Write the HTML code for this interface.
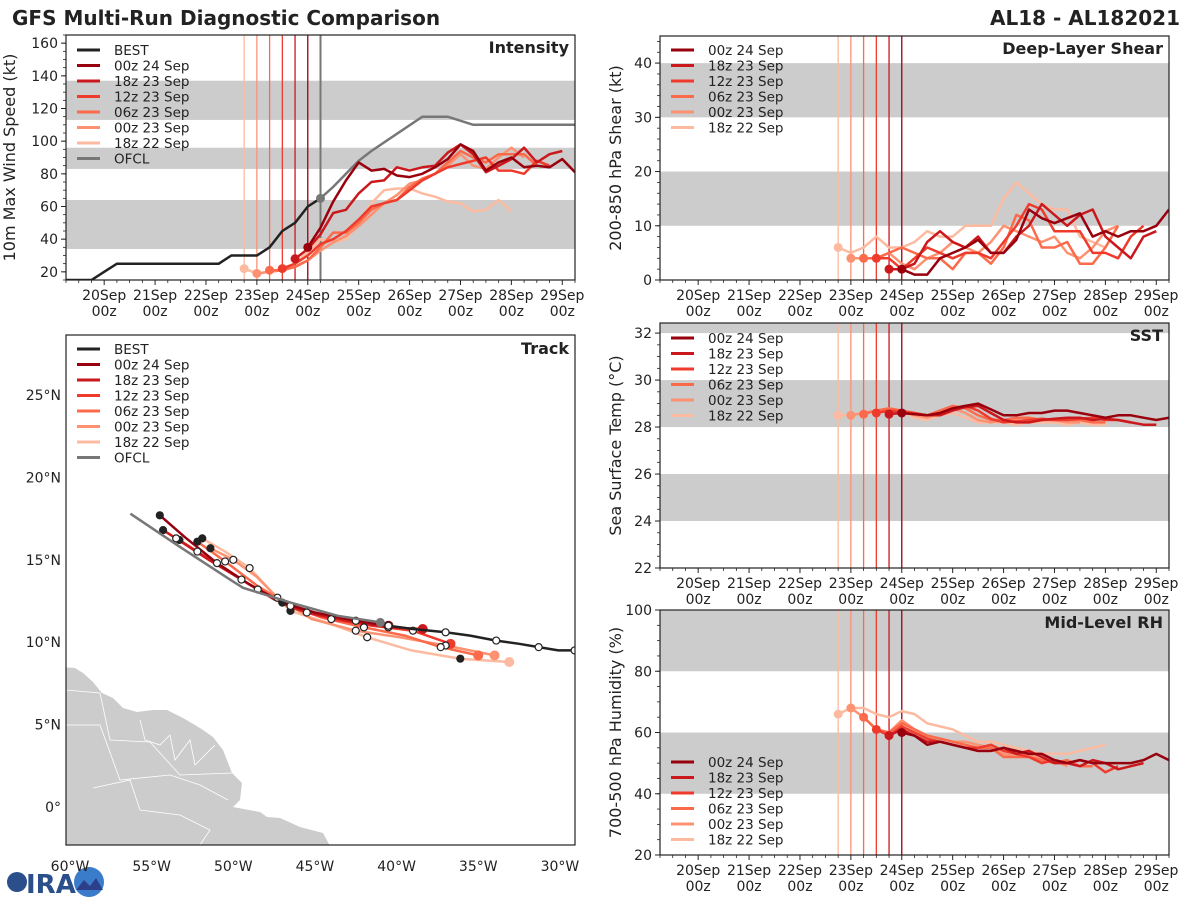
<!DOCTYPE html>
<html><head><meta charset="utf-8"><style>
body{margin:0;background:#fff;}
svg{display:block;font-family:"DejaVu Sans","Liberation Sans",sans-serif;}
</style></head><body>
<svg id="root" width="1200" height="900" viewBox="0 0 1200 900">
<text x="12" y="25" font-size="20" font-weight="bold" fill="#222">GFS Multi-Run Diagnostic Comparison</text>
<text x="1180" y="25" font-size="20" font-weight="bold" fill="#222" text-anchor="end">AL18 - AL182021</text>
<g>
<circle cx="17" cy="882" r="10" fill="#2b4f8a"/>
<text x="26" y="893" font-size="26" font-weight="bold" fill="#2b4f8a">IRA</text>
<circle cx="89" cy="882" r="15" fill="#3a7cc9"/>
<path d="M76 890 L84 880 L90 886 L96 878 L103 890 Z" fill="#2c3f8a"/>
</g>
</svg>
<script>
// ---------- data ----------
const runLabels = ['00z 24 Sep','18z 23 Sep','12z 23 Sep','06z 23 Sep','00z 23 Sep','18z 22 Sep'];
const runColors = ['#99000d','#cb181d','#ef3b2c','#fb6a4a','#fc9272','#fcbba1'];
const runInitHours = [96,90,84,78,72,66];
const dayLabels = ['20Sep','21Sep','22Sep','23Sep','24Sep','25Sep','26Sep','27Sep','28Sep','29Sep'];

const bestHours = [-18,-12,-6,0,6,12,18,24,30,36,42,48,54,60,66,72,78,84,90,96,102];
const bestWind = [15,15,15,20,25,25,25,25,25,25,25,25,25,30,30,30,35,45,50,60,65];
const ofclHours = [102,108,114,120,126,150,162,174,222];
const ofclWind = [65,72,80,88,94,115,115,110,110];

const windRuns = [
 [35,47,63,76,87,82,83,79,78,80,84,89,98,94,82,87,90,84,85,84,89,81],
 [28,34,43,56,58,68,75,76,84,82,84,85,93,98,92,81,85,89,96,87,92,94],
 [22,25,30,37,40,45,52,60,62,64,70,76,80,84,86,88,90,82,82,80,88,85],
 [21,21,23,27,35,44,44,50,58,62,64,72,77,80,87,94,90,87,92,92,92,85],
 [19,20,21,23,27,33,38,42,48,55,62,67,74,76,80,85,92,85,83,90,96,90],
 [22,19,20,22,25,32,40,38,40,50,62,70,71,71,68,66,63,62,57,58,64,57]
];
const shearRuns = [
 [2,1,1,4,5,6,7.4,5,5,7.4,13,11.4,10.5,11.4,12.3,8,9,8,9,9,10,13],
 [2,2,3,7,9,7,6,8,5,5,8,10,14,12,10,12,13,8,6,4,8,9],
 [4,4,2,4,6,5,4,5,5,4,7,10,14,13,9,9,9,5,5,4,8,10],
 [4,4,5,6,5,4,4,2,5,5,3,6,12,11,6,6,7,3,3,6,10],
 [4,4,4,5,3,2,4,5,7,6,5,7,10,9,8,7,8,5,4,6,9,10],
 [6,5,6,8,6,6,7,9,8,8,10,10,10,15,18,16,14,13,13,8,7,6]
];
const sstRuns = [
 [28.6,28.55,28.5,28.6,28.8,28.9,29.0,28.75,28.5,28.5,28.6,28.6,28.7,28.7,28.6,28.5,28.4,28.5,28.5,28.4,28.3,28.4],
 [28.55,28.6,28.55,28.5,28.5,28.7,28.85,28.9,28.6,28.3,28.2,28.2,28.3,28.35,28.4,28.4,28.3,28.35,28.3,28.2,28.1,28.1],
 [28.6,28.7,28.65,28.6,28.5,28.6,28.8,28.9,28.7,28.35,28.2,28.25,28.3,28.35,28.3,28.3,28.35,28.4,28.3,28.3,28.2],
 [28.55,28.7,28.8,28.7,28.6,28.5,28.7,28.9,28.8,28.5,28.3,28.3,28.4,28.4,28.3,28.3,28.3,28.3,28.2,28.2],
 [28.5,28.6,28.7,28.7,28.65,28.5,28.4,28.6,28.8,28.6,28.3,28.2,28.3,28.3,28.2,28.3,28.3,28.2,28.2],
 [28.5,28.5,28.6,28.7,28.8,28.7,28.4,28.3,28.5,28.6,28.4,28.2,28.2,28.2,28.1,28.2,28.2,28.2,28.1,28.2,28.1,28.1]
];
const rhRuns = [
 [60,59,56,57,56,55,54,54,55,54,53,53,51,50,51,50,50,50,50,51,53,51],
 [59,61,59,57,57,56,55,54,54,55,53,54,52,50,50,49,51,50,48,49,50],
 [61,59,62,60,58,57,56,55,55,56,54,53,52,50,51,50,51,50,47,49],
 [65,61,60,63,61,59,58,57,56,55,55,52,52,52,51,50,51,49,49],
 [68,65,61,60,64,61,59,58,57,57,56,55,53,52,53,51,51,49],
 [66,68,68,66,65,67,66,63,62,61,59,57,57,56,55,54,53,53,53,54,55,56]
];

const bestLon = [-29.1,-30.1,-31.3,-32.5,-33.9,-35.5,-37.0,-39.0,-40.5,-41.0];
const bestLat = [9.5,9.5,9.7,9.9,10.1,10.4,10.6,10.8,11.0,11.2];
const ofclLon = [-41.0,-43.6,-46.5,-49.4,-50.2,-53.3,-56.3];
const ofclLat = [11.2,11.6,12.4,13.3,13.8,15.8,17.8];
const trackLons = [
 [-40.5,-42.5,-45.0,-47.0,-49.0,-51.0,-53.0,-54.5],
 [-38.4,-40.5,-43.0,-45.5,-47.5,-49.5,-51.5,-53.5,-54.3],
 [-36.7,-39.0,-41.5,-44.0,-46.5,-48.5,-50.3,-52.2,-53.3],
 [-35.0,-37.3,-39.5,-42.0,-44.6,-46.5,-48.5,-50.5,-52.2],
 [-34.0,-37.0,-39.8,-42.5,-45.2,-47.3,-48.6,-50.0,-51.4],
 [-33.1,-36.1,-39.1,-41.8,-44.0,-46.5,-47.6,-49.0,-50.5,-51.9]
];
const trackLats = [
 [11.0,11.3,11.8,12.4,13.5,14.8,16.4,17.7],
 [10.8,10.9,11.3,11.8,12.6,13.8,15.0,16.3,16.8],
 [9.9,10.7,11.0,11.4,12.1,13.2,14.3,15.5,16.2],
 [9.2,9.7,10.4,10.9,11.5,12.2,13.4,14.9,16.1],
 [9.2,9.8,10.3,10.7,11.4,12.7,14.0,15.0,15.7],
 [8.8,9.0,9.5,10.3,11.1,11.9,13.0,14.5,15.5,16.3]
];

// ---------- helpers ----------
const NS='http://www.w3.org/2000/svg';
const root=document.getElementById('root');
function mk(tag,attrs,parent){const e=document.createElementNS(NS,tag);for(const k in attrs)e.setAttribute(k,attrs[k]);(parent||root).appendChild(e);return e;}
function txt(s,attrs,parent){const e=mk('text',attrs,parent);e.textContent=s;return e;}
function pts(xs,ys){return xs.map((x,i)=>x.toFixed(1)+','+ys[i].toFixed(1)).join(' ');}

function timePanel(p){
  const g=mk('g',{});
  
  
  const tx=h=>p.x0+(h+18)/240*(p.x1-p.x0);
  const ty=v=>p.y1-(v-p.vmin)/(p.vmax-p.vmin)*(p.y1-p.y0);
  const clipId='clip-'+p.name;
  const cp=mk('clipPath',{id:clipId},g);mk('rect',{x:p.x0,y:p.y0,width:p.x1-p.x0,height:p.y1-p.y0},cp);
  p.bands.forEach(b=>{const r=mk('rect',{x:p.x0,y:ty(Math.min(b[1],p.vmax)),width:p.x1-p.x0,height:ty(b[0])-ty(Math.min(b[1],p.vmax)),fill:'#cccccc'},g);
    });
  for(let r=5;r>=0;r--){const l=mk('line',{x1:tx(runInitHours[r]),x2:tx(runInitHours[r]),y1:p.y0,y2:p.y1,stroke:runColors[r],'stroke-width':1.3},g);
    }
  if(p.ofcl){const l=mk('line',{x1:tx(ofclHours[0]),x2:tx(ofclHours[0]),y1:p.y0,y2:p.y1,stroke:'#777','stroke-width':2},g);
    }
  const dg=mk('g',{'clip-path':'url(#'+clipId+')'},g);
  if(p.best){
    const l=mk('polyline',{points:pts(bestHours.map(tx),bestWind.map(ty)),fill:'none',stroke:'#222','stroke-width':2.5},dg);
    
    const o=mk('polyline',{points:pts(ofclHours.map(tx),ofclWind.map(ty)),fill:'none',stroke:'#777','stroke-width':2.5},dg);
    
    const od=mk('circle',{cx:tx(ofclHours[0]),cy:ty(ofclWind[0]),r:4.5,fill:'#777'},dg);
    
  }
  for(let r=5;r>=0;r--){
    const vals=p.data[r];const hs=vals.map((v,i)=>runInitHours[r]+6*i);
    const l=mk('polyline',{points:pts(hs.map(tx),vals.map(ty)),fill:'none',stroke:runColors[r],'stroke-width':2.5,'stroke-linejoin':'round'},dg);
    
    
    const c=mk('circle',{cx:tx(hs[0]),cy:ty(vals[0]),r:4.5,fill:runColors[r]},dg);
    
    
  }
  mk('rect',{x:p.x0,y:p.y0,width:p.x1-p.x0,height:p.y1-p.y0,fill:'none',stroke:'#222','stroke-width':1.2},g);
  for(let v=p.tickStart;v<=p.vmax+1e-6;v+=p.tickStep){
    mk('line',{x1:p.x0-5,x2:p.x0,y1:ty(v),y2:ty(v),stroke:'#222'},g);
    const t=txt(String(v),{x:p.x0-8,y:ty(v)+5,'font-size':14,'text-anchor':'end',fill:'#222'},g);
    
  }
  for(let v=p.vmin;v<=p.vmax+1e-6;v+=p.minorStep){
    mk('line',{x1:p.x0-3,x2:p.x0,y1:ty(v),y2:ty(v),stroke:'#222','stroke-width':0.8},g);
  }
  for(let h=-18;h<=222;h+=6){
    const major=(h%24===0);
    mk('line',{x1:tx(h),x2:tx(h),y1:p.y1,y2:p.y1+(major?5:3),stroke:'#222','stroke-width':major?1:0.8},g);
  }
  dayLabels.forEach((d,i)=>{
    const x=tx(i*24);
    const a=txt(d,{x:x,y:p.y1+20,'font-size':14,'text-anchor':'middle',fill:'#222'},g);
    
    const b=txt('00z',{x:x,y:p.y1+36,'font-size':14,'text-anchor':'middle',fill:'#222'},g);
    
  });
  const ttl=txt(p.title,{x:p.x1-6,y:p.y0+18,'font-size':16,'font-weight':'bold','text-anchor':'end',fill:'#222'},g);
  
  const yl=txt(p.ylabel,{x:p.ylx,y:(p.y0+p.y1)/2,'font-size':16,'text-anchor':'middle',fill:'#222',transform:'rotate(-90 '+p.ylx+' '+(p.y0+p.y1)/2+')'},g);
  
  legend(g,p.x0+11,p.legY,p.best);
}
function legend(g,x,y,withBest){
  const lg=mk('g',{},g);
  
  const items=[];
  if(withBest)items.push(['BEST','#222']);
  runLabels.forEach((l,i)=>items.push([l,runColors[i]]));
  if(withBest)items.push(['OFCL','#777']);
  items.forEach((it,i)=>{
    const yy=y+i*15.5;
    mk('line',{x1:x,x2:x+23,y1:yy,y2:yy,stroke:it[1],'stroke-width':3},lg);
    const t=txt(it[0],{x:x+37,y:yy+5,'font-size':13.5,fill:'#222'},lg);
    
  });
}

timePanel({name:'intensity',x0:66,x1:575,y0:35,y1:280,vmin:15,vmax:165,tickStart:20,tickStep:20,minorStep:5,
  bands:[[34,64],[83,96],[113,137]],data:windRuns,best:true,ofcl:true,title:'Intensity',ylabel:'10m Max Wind Speed (kt)',ylx:15,legY:50});
timePanel({name:'shear',x0:660,x1:1169,y0:36,y1:280,vmin:0,vmax:45,tickStart:0,tickStep:10,minorStep:2,
  bands:[[10,20],[30,40]],data:shearRuns,best:false,title:'Deep-Layer Shear',ylabel:'200-850 hPa Shear (kt)',ylx:621,legY:50});
timePanel({name:'sst',x0:660,x1:1169,y0:323,y1:568,vmin:22,vmax:32.43,tickStart:22,tickStep:2,minorStep:0.5,
  bands:[[24,26],[28,30],[32,34]],data:sstRuns,best:false,title:'SST',ylabel:'Sea Surface Temp (°C)',ylx:621,legY:338});
timePanel({name:'rh',x0:660,x1:1169,y0:610,y1:855,vmin:20,vmax:100,tickStart:20,tickStep:20,minorStep:5,
  bands:[[40,60],[80,100]],data:rhRuns,best:false,title:'Mid-Level RH',ylabel:'700-500 hPa Humidity (%)',ylx:621,legY:762});

// ---------- track panel ----------
(function(){
  const x0=66,x1=575,y0=335,y1=845;
  const lx=lon=>70+(lon+60)*16.33;
  const ly=lat=>807-lat*16.48;
  const g=mk('g',{});
  
  
  const cp=mk('clipPath',{id:'clip-track'},g);mk('rect',{x:x0,y:y0,width:x1-x0,height:y1-y0},cp);
  const dg=mk('g',{'clip-path':'url(#clip-track)'},g);
  const land=mk('polygon',{points:'60,667 75,668 83,673 93,682 102,693 113,698 123,708 137,712 153,710 167,710 183,718 200,728 213,737 223,750 232,773 242,783 240,800 233,807 260,812 267,817 280,818 300,827 323,833 330,846 60,846',fill:'#cccccc'},dg);
  
  mk('polyline',{points:'66,690 100,693 110,740 150,742 180,775 232,773',fill:'none',stroke:'#fff','stroke-width':0.8},dg);
  mk('polyline',{points:'66,725 100,725 120,780 170,775 200,785 228,800',fill:'none',stroke:'#fff','stroke-width':0.8},dg);
  mk('polyline',{points:'93,788 130,780 140,810 180,815 210,830 200,845',fill:'none',stroke:'#fff','stroke-width':0.8},dg);
  mk('polyline',{points:'140,720 145,740 160,745 170,735 175,760 190,740 195,765 215,745',fill:'none',stroke:'#fff','stroke-width':0.8},dg);
  const markers=(lons,lats,startIdx)=>{
    lons.forEach((lo,i)=>{
      if(i<startIdx)return;
      if((i-startIdx)%2!==0 && i!==lons.length-1)return;
      const filled=((lons.length-1-i)%4===0);
      const c=mk('circle',{cx:lx(lo),cy:ly(lats[i]),r:3.5,fill:filled?'#222':'#fff',stroke:'#222','stroke-width':1.2},dg);
      
    });
  };
  for(let r=5;r>=0;r--){
    const l=mk('polyline',{points:pts(trackLons[r].map(lx),trackLats[r].map(ly)),fill:'none',stroke:runColors[r],'stroke-width':2.5},dg);
    
    
    const c=mk('circle',{cx:lx(trackLons[r][0]),cy:ly(trackLats[r][0]),r:5,fill:runColors[r]},dg);
    
    
  }
  for(let r=5;r>=0;r--)markers(trackLons[r],trackLats[r],1);
  const b=mk('polyline',{points:pts(bestLon.map(lx),bestLat.map(ly)),fill:'none',stroke:'#222','stroke-width':2.5},dg);
  
  markers(bestLon,bestLat,0);
  const o=mk('polyline',{points:pts(ofclLon.map(lx),ofclLat.map(ly)),fill:'none',stroke:'#777','stroke-width':2.5},dg);
  
  const od=mk('circle',{cx:lx(ofclLon[0]),cy:ly(ofclLat[0]),r:4.5,fill:'#777'},dg);
  
  mk('rect',{x:x0,y:y0,width:x1-x0,height:y1-y0,fill:'none',stroke:'#222','stroke-width':1.2},g);
  [0,5,10,15,20,25].forEach(lat=>{
    const t=txt(lat===0?'0°':lat+'°N',{x:x0-5,y:ly(lat)+5,'font-size':14,'text-anchor':'end',fill:'#222'},g);
    
  });
  [60,55,50,45,40,35,30].forEach(lon=>{
    const t=txt(lon+'°W',{x:lx(-lon),y:871,'font-size':14,'text-anchor':'middle',fill:'#222'},g);
    
  });
  const ttl=txt('Track',{x:x1-6,y:y0+19,'font-size':16,'font-weight':'bold','text-anchor':'end',fill:'#222'},g);
  
  legend(g,x0+11,349,true);
})();
</script>
</body></html>
